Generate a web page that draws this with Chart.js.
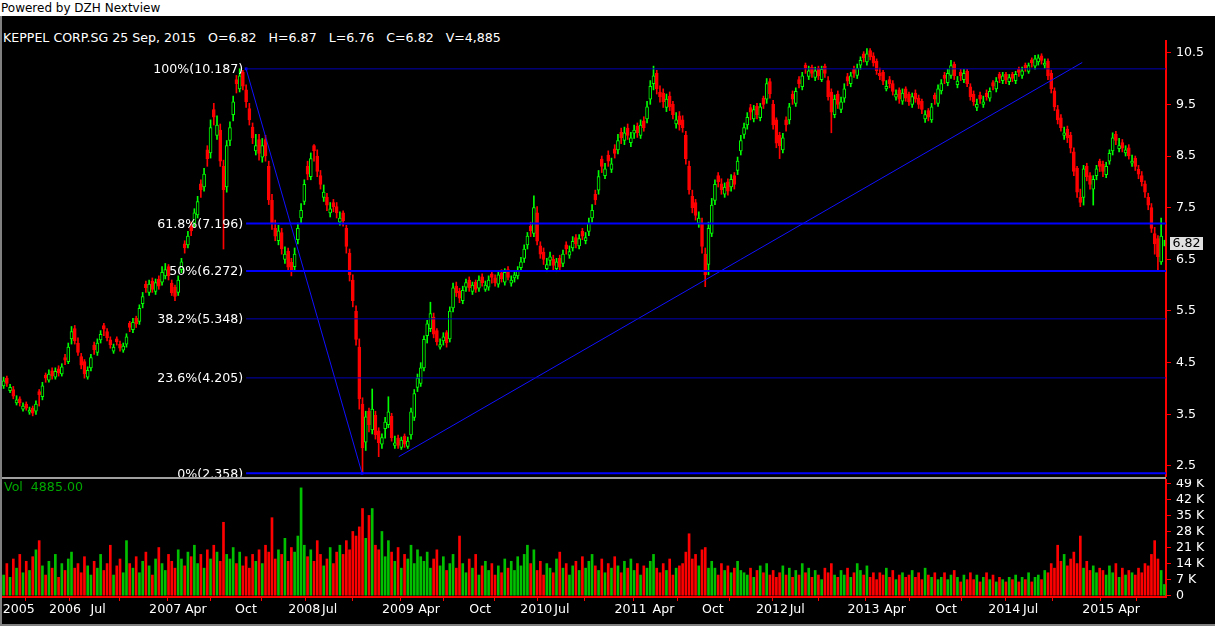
<!DOCTYPE html>
<html><head><meta charset="utf-8">
<script src="https://cdn.jsdelivr.net/npm/chart.js@4.4.1/dist/chart.umd.min.js"></script>
<style>
html,body{margin:0;padding:0;background:#000;width:1215px;height:626px;overflow:hidden;font-family:"DejaVu Sans",sans-serif;}
.abs{position:absolute;}
#topbar{left:0;top:0;width:1215px;height:16px;background:#fff;color:#000;font-size:12px;line-height:14px;}
#topbar span{position:absolute;left:1px;top:1px;white-space:pre;}
#title{left:3px;top:31px;color:#fff;font-size:12.6px;line-height:14px;white-space:pre;}
#vol{left:4px;top:480px;color:#00a800;font-size:12.6px;line-height:14px;white-space:pre;}
#lborder{left:0;top:16px;width:2px;height:610px;background:#808080;}
#bborder{left:0;top:624px;width:1215px;height:2px;background:#808080;}
#sep{left:0;top:477px;width:1166px;height:2px;background:#a0a0a0;}
#pc{left:0;top:40px;}
#vc{left:0;top:479px;}
</style></head><body>
<div class="abs" id="topbar"><span>Powered by DZH Nextview</span></div>
<div class="abs" id="title">KEPPEL CORP.SG 25 Sep, 2015   O=6.82   H=6.87   L=6.76   C=6.82   V=4,885</div>
<canvas class="abs" id="pc" width="1215" height="437"></canvas>
<canvas class="abs" id="vc" width="1215" height="147"></canvas>
<div class="abs" id="sep"></div>
<div class="abs" id="vol">Vol  4885.00</div>
<div class="abs" id="lborder"></div>
<div class="abs" id="bborder"></div>
<script>
// ---- data (weekly-ish candles) ----
const closeP = [
4.15,4.10,4.02,3.85,3.78,3.72,3.66,3.62,3.58,3.52,
3.70,3.88,4.05,4.20,4.28,4.25,4.33,4.30,4.42,4.55,
4.80,5.10,4.92,4.70,4.45,4.28,4.35,4.60,4.75,4.88,
5.05,5.15,4.98,4.85,4.80,4.90,4.78,4.82,5.00,5.18,
5.28,5.25,5.55,5.78,5.95,6.02,5.92,6.05,5.98,6.25,
6.30,6.18,5.85,5.78,6.10,6.45,6.72,6.95,7.05,7.40,
7.62,7.85,8.15,8.45,9.05,9.25,9.10,8.40,7.85,8.70,
9.05,9.55,9.90,10.05,9.85,9.55,9.20,8.85,8.70,8.55,
8.70,8.50,7.65,7.20,6.95,7.05,6.70,6.60,6.35,6.28,
6.60,7.10,7.45,7.95,8.15,8.45,8.60,8.20,7.95,7.80,
7.55,7.48,7.52,7.40,7.30,7.25,6.75,6.20,5.70,4.95,
3.80,2.85,3.45,3.30,3.60,3.10,2.95,3.05,3.35,3.55,
3.05,2.95,2.90,3.00,2.92,2.98,3.55,3.90,4.20,4.40,
4.95,5.25,5.45,5.05,4.90,4.85,5.00,4.88,5.50,5.95,
5.85,5.75,5.90,6.05,5.95,6.00,5.92,6.10,6.05,6.00,
6.10,6.15,6.05,6.20,6.12,6.25,6.15,6.10,6.20,6.28,
6.45,6.70,6.95,7.05,7.50,6.85,6.60,6.50,6.40,6.55,
6.38,6.45,6.35,6.60,6.70,6.65,6.85,6.80,6.90,6.95,
6.92,7.20,7.45,7.65,8.10,8.30,8.25,8.40,8.35,8.55,
8.80,8.85,8.95,8.90,8.85,9.00,8.95,9.10,9.05,9.45,
9.85,10.05,9.80,9.65,9.55,9.60,9.45,9.30,9.20,9.10,
9.05,8.45,7.85,7.50,7.35,7.30,6.75,6.20,7.10,7.55,
7.95,8.00,7.85,7.90,7.82,8.05,7.95,8.40,8.80,9.05,
9.25,9.35,9.40,9.30,9.45,9.50,9.90,9.70,9.10,8.75,
8.70,8.85,9.10,9.45,9.60,9.75,9.90,10.05,10.20,10.15,
10.10,10.15,10.05,10.18,10.10,9.65,9.35,9.60,9.50,9.55,
9.80,9.95,10.05,10.10,10.20,10.35,10.40,10.48,10.42,10.30,
10.15,10.05,9.95,9.85,9.90,9.75,9.70,9.60,9.72,9.62,
9.55,9.65,9.60,9.50,9.40,9.30,9.25,9.45,9.60,9.80,
9.90,10.00,10.10,10.25,10.05,9.95,10.05,10.10,9.90,9.65,
9.55,9.50,9.60,9.55,9.65,9.75,9.85,9.95,10.00,10.05,
9.98,10.02,10.00,10.08,10.12,10.15,10.20,10.25,10.30,10.38,
10.40,10.35,10.30,10.05,9.80,9.45,9.20,9.05,8.95,8.85,
8.65,8.20,7.80,7.60,8.25,8.10,7.95,8.05,8.25,8.30,
8.20,8.30,8.55,8.85,8.80,8.70,8.65,8.62,8.50,8.40,
8.30,8.15,8.00,7.80,7.55,7.10,6.80,6.55,6.95,6.82];
const openP = [
4.05,4.20,3.96,3.98,3.72,3.80,3.60,3.70,3.54,3.62,
3.56,3.94,3.84,4.26,4.16,4.34,4.22,4.38,4.28,4.60,
4.52,4.96,5.16,4.88,4.62,4.52,4.22,4.40,4.84,4.70,
4.94,5.22,5.10,4.94,4.72,4.96,4.86,4.74,4.86,5.26,
5.14,5.36,5.30,5.64,6.02,5.86,6.08,5.88,6.12,6.06,
6.18,6.36,6.04,5.96,5.86,6.30,6.80,6.78,7.14,7.20,
7.36,7.96,7.90,8.62,8.56,9.40,8.90,9.00,8.30,7.90,
8.80,9.30,9.98,9.80,10.12,9.78,9.42,9.06,8.60,8.82,
8.48,8.82,8.30,7.64,7.10,6.86,7.02,6.50,6.66,6.44,
6.36,6.88,7.30,7.62,8.30,8.10,8.70,8.50,8.12,7.70,
7.70,7.40,7.60,7.52,7.22,7.40,7.10,6.62,6.10,5.50,
4.80,3.70,2.96,3.56,3.20,3.48,3.18,2.92,3.22,3.30,
3.46,2.90,3.04,2.86,3.08,2.88,3.10,3.44,4.02,4.10,
4.40,5.02,5.16,5.38,5.12,4.80,4.92,5.08,4.96,5.56,
5.98,5.88,5.70,5.96,6.10,5.88,6.06,5.94,6.16,5.92,
5.96,6.22,6.14,6.02,6.24,6.06,6.30,6.04,6.14,6.18,
6.34,6.52,6.78,7.14,7.00,7.40,6.76,6.64,6.32,6.48,
6.50,6.32,6.52,6.42,6.78,6.58,6.72,6.92,6.76,7.04,
6.86,7.04,7.30,7.76,7.84,8.44,8.12,8.52,8.24,8.64,
8.62,8.96,8.80,9.04,8.76,8.94,9.08,8.90,9.18,9.22,
9.60,9.90,10.10,9.74,9.72,9.44,9.66,9.50,9.12,9.28,
9.20,8.90,8.30,7.72,7.60,7.20,7.20,6.60,6.40,7.00,
7.64,8.12,7.96,7.76,8.00,7.90,8.12,8.22,8.60,8.92,
9.10,9.44,9.22,9.46,9.24,9.62,9.60,9.94,9.50,9.20,
8.90,8.62,9.20,9.20,9.70,9.52,9.98,9.84,10.26,10.04,
10.22,10.02,10.20,9.98,10.24,9.96,9.74,9.30,9.70,9.40,
9.62,10.04,9.90,10.18,10.06,10.26,10.48,10.32,10.54,10.44,
10.34,10.10,10.12,9.80,9.98,9.90,9.64,9.78,9.56,9.80,
9.70,9.50,9.72,9.62,9.56,9.22,9.38,9.20,9.68,9.52,
9.76,10.06,9.92,10.06,10.28,9.88,10.12,9.98,10.14,9.84,
9.70,9.44,9.68,9.50,9.72,9.62,9.92,9.80,10.08,9.96,
10.08,9.94,10.08,9.96,10.18,10.06,10.26,10.14,10.36,10.24,
10.32,10.44,10.26,10.34,10.10,9.76,9.40,9.24,8.90,9.02,
8.90,8.58,8.26,7.70,7.70,8.30,8.12,7.86,8.12,8.40,
8.34,8.14,8.40,8.60,8.92,8.64,8.76,8.56,8.66,8.36,
8.46,8.24,8.12,7.96,7.70,7.50,7.00,6.90,6.45,6.82];
const highP = [
4.22,4.24,4.08,4.04,3.86,3.84,3.72,3.74,3.64,3.66,
3.76,3.98,4.12,4.30,4.36,4.40,4.40,4.44,4.48,4.66,
4.88,5.20,5.22,4.98,4.68,4.56,4.42,4.66,4.90,4.96,
5.12,5.26,5.16,5.00,4.86,5.00,4.92,4.88,5.06,5.30,
5.36,5.40,5.62,5.86,6.08,6.10,6.14,6.12,6.18,6.36,
6.42,6.40,6.10,6.00,6.18,6.52,6.86,7.04,7.22,7.48,
7.72,8.04,8.26,8.70,9.20,9.52,9.28,9.12,8.42,8.80,
9.16,9.66,10.06,10.19,10.16,9.88,9.52,9.14,8.92,8.92,
8.84,8.90,8.40,7.76,7.26,7.16,7.10,6.74,6.72,6.52,
6.72,7.20,7.58,8.04,8.40,8.56,8.72,8.62,8.22,7.94,
7.78,7.60,7.66,7.60,7.42,7.44,7.16,6.70,6.20,5.60,
4.96,3.82,3.56,3.62,3.99,3.56,3.24,3.12,3.44,3.84,
3.52,3.08,3.10,3.06,3.12,3.06,3.62,3.98,4.28,4.50,
5.02,5.32,5.67,5.46,5.16,4.96,5.08,5.12,5.58,6.04,
6.06,5.94,5.98,6.12,6.16,6.06,6.10,6.18,6.22,6.08,
6.18,6.26,6.20,6.28,6.30,6.32,6.36,6.18,6.28,6.36,
6.54,6.78,7.02,7.22,7.73,7.52,6.84,6.72,6.52,6.64,
6.58,6.52,6.58,6.68,6.84,6.76,6.94,6.98,6.98,7.10,
7.02,7.30,7.56,7.84,8.22,8.50,8.36,8.60,8.46,8.72,
8.92,9.04,9.06,9.12,8.96,9.10,9.14,9.20,9.26,9.56,
9.96,10.24,10.16,9.86,9.80,9.70,9.74,9.56,9.34,9.36,
9.28,8.98,8.40,7.84,7.66,7.42,7.30,6.72,7.22,7.68,
8.04,8.18,8.06,7.98,8.06,8.14,8.18,8.48,8.90,9.14,
9.34,9.50,9.48,9.52,9.52,9.66,10.00,10.00,9.58,9.24,
8.96,8.94,9.26,9.52,9.76,9.82,10.04,10.12,10.30,10.24,
10.26,10.22,10.24,10.24,10.28,10.04,9.80,9.68,9.76,9.64,
9.90,10.10,10.12,10.24,10.28,10.42,10.52,10.58,10.58,10.50,
10.38,10.20,10.16,9.96,10.04,9.96,9.78,9.82,9.80,9.84,
9.74,9.72,9.78,9.68,9.60,9.38,9.42,9.52,9.72,9.88,
9.98,10.12,10.18,10.35,10.32,10.04,10.18,10.18,10.18,9.90,
9.76,9.60,9.74,9.66,9.78,9.82,9.96,10.02,10.12,10.12,
10.12,10.08,10.12,10.14,10.22,10.22,10.30,10.30,10.40,10.45,
10.46,10.48,10.38,10.38,10.16,9.82,9.48,9.30,9.06,9.08,
8.96,8.66,8.30,7.86,8.32,8.36,8.18,8.12,8.32,8.44,
8.40,8.38,8.62,8.95,8.98,8.84,8.82,8.70,8.72,8.52,
8.50,8.32,8.20,8.02,7.78,7.58,7.12,6.96,7.30,6.87];
const lowP = [
4.00,4.04,3.92,3.80,3.68,3.66,3.56,3.58,3.50,3.47,
3.50,3.66,3.78,4.12,4.12,4.18,4.18,4.24,4.24,4.46,
4.48,4.86,4.86,4.64,4.38,4.20,4.18,4.34,4.66,4.64,
4.88,5.02,4.92,4.78,4.68,4.84,4.72,4.70,4.80,5.10,
5.08,5.18,5.24,5.56,5.86,5.80,5.86,5.82,5.92,6.00,
6.12,6.10,5.80,5.70,5.80,6.24,6.62,6.72,6.96,7.12,
7.30,7.70,7.82,8.30,8.46,9.10,8.82,8.30,6.70,7.80,
8.70,9.18,9.72,9.74,9.78,9.44,9.10,8.74,8.52,8.42,
8.38,8.40,7.56,7.08,6.86,6.78,6.60,6.42,6.26,6.18,
6.26,6.80,7.20,7.56,8.04,8.04,8.40,8.10,7.86,7.62,
7.44,7.32,7.42,7.30,7.16,7.14,6.62,6.08,5.58,4.84,
3.60,2.36,2.80,3.16,3.12,3.02,2.68,2.84,3.04,3.24,
2.98,2.84,2.84,2.82,2.86,2.84,3.02,3.38,3.94,4.04,
4.34,4.88,5.10,4.98,4.84,4.76,4.84,4.80,4.90,5.48,
5.78,5.66,5.64,5.88,5.88,5.82,5.86,5.88,5.98,5.88,
5.90,6.04,5.98,5.96,6.06,6.00,6.10,5.98,6.06,6.12,
6.26,6.44,6.70,6.94,6.94,6.78,6.52,6.40,6.26,6.38,
6.28,6.26,6.28,6.36,6.60,6.52,6.66,6.72,6.70,6.88,
6.80,6.96,7.22,7.56,7.76,8.18,8.06,8.30,8.18,8.46,
8.54,8.74,8.72,8.82,8.68,8.84,8.86,8.84,8.98,9.14,
9.50,9.78,9.70,9.54,9.44,9.36,9.38,9.22,9.04,9.00,
8.96,8.34,7.76,7.40,7.26,7.12,6.62,5.97,6.20,6.94,
7.56,7.90,7.76,7.70,7.74,7.82,7.86,8.14,8.52,8.84,
9.02,9.20,9.16,9.22,9.18,9.42,9.52,9.62,9.02,8.66,
8.45,8.56,8.98,9.12,9.50,9.46,9.82,9.78,10.10,9.98,
10.02,9.96,9.98,9.94,10.02,9.58,8.95,9.24,9.42,9.34,
9.54,9.86,9.84,10.02,10.00,10.18,10.32,10.26,10.36,10.24,
10.08,9.98,9.88,9.76,9.82,9.68,9.58,9.52,9.50,9.56,
9.48,9.44,9.54,9.42,9.32,9.15,9.18,9.15,9.50,9.46,
9.70,9.90,9.86,10.00,9.98,9.82,9.96,9.92,9.84,9.58,
9.48,9.38,9.52,9.44,9.58,9.56,9.78,9.74,9.92,9.90,
9.90,9.88,9.94,9.90,10.04,10.00,10.14,10.10,10.22,10.18,
10.26,10.28,10.20,9.98,9.72,9.38,9.12,8.98,8.82,8.76,
8.56,8.12,7.70,7.52,7.55,8.02,7.86,7.55,8.04,8.20,
8.10,8.08,8.34,8.52,8.72,8.58,8.58,8.50,8.44,8.30,
8.22,8.06,7.92,7.70,7.46,7.02,6.60,6.30,6.40,6.76];
// volume in thousands of shares
const volumeK = [
9,14,8,16,12,18,10,15,11,17,
20,24,13,9,15,12,18,8,14,11,
16,19,12,14,10,17,13,9,15,12,
18,11,14,22,9,13,16,10,24,14,
12,17,10,15,19,13,9,16,21,14,
11,18,15,12,20,16,13,19,17,22,
14,18,12,20,16,22,19,15,32,18,
16,21,14,19,13,17,12,18,15,20,
14,22,19,34,16,20,18,25,15,21,
19,26,47,22,17,20,15,24,18,13,
16,21,14,19,22,18,24,20,28,26,
30,38,25,35,38,22,20,28,17,24,
19,15,21,12,18,16,22,14,20,17,
15,19,12,16,20,13,17,11,14,18,
12,26,14,10,16,12,18,9,13,15,
11,14,9,13,10,16,12,15,11,17,
13,18,22,14,20,11,15,9,14,12,
10,16,19,12,14,9,13,15,11,17,
12,15,18,13,11,16,10,14,12,17,
13,10,15,12,16,11,14,9,13,12,
15,18,12,10,14,11,16,9,12,13,
14,19,27,16,18,13,20,21,12,15,
12,9,14,11,13,10,12,15,11,10,
9,12,8,11,13,10,14,9,11,8,
10,13,9,12,8,11,9,14,10,12,
8,11,9,7,12,10,14,9,8,11,
9,12,8,10,14,11,9,13,8,10,
7,10,9,12,8,11,7,9,10,8,
9,11,8,10,7,12,9,8,10,7,
8,10,7,9,11,8,6,9,7,10,
7,9,6,8,10,7,9,6,8,7,
6,8,7,9,6,8,7,10,6,8,
9,7,11,10,14,12,22,15,18,13,
16,19,14,26,12,15,11,13,10,12,
11,9,13,10,14,8,12,9,11,10,
9,12,10,14,13,18,24,16,11,4.885];
// axis ticks
const priceTicks = [2.5,3.5,4.5,5.5,6.5,7.5,8.5,9.5,10.5];
const volTicks = [0,7,14,21,28,35,42,49];
const xTickLabels = ['2005','2006','Jul','2007','Apr','Oct','2008','Jul','2009','Apr','Oct','2010','Jul','2011','Apr','Oct','2012','Jul','2013','Apr','Oct','2014','Jul','2015','Apr'];
const xTickPos = [-0.25,14.0,26.9,45.0,56.1,71.6,88.0,98.5,117.0,128.2,144.0,159.8,170.3,188.9,200.7,216.0,232.7,243.1,261.0,272.3,288.1,304.5,315.3,333.6,344.7];
// drawing tools (Fibonacci retracement + trendline)
const fibLevels = [10.187,7.196,6.272,5.348,4.205,2.358];
const fibNames = ['100%','61.8%','50%','38.2%','23.6%','0%'];
const fibStartX = 75.0, fibEndX = 110.85;
const trendX = [122.2, 333.6];
const trendY = [2.68, 10.31];
const lastClose = 6.82;

const N = closeP.length;
const XMIN = -0.5, XMAX = N - 0.5;
const UP = '#00ff00', DN = '#ff0000';
const isUp = closeP.map((c,i)=> c >= openP[i]);
Chart.defaults.font.family = '"DejaVu Sans", sans-serif';
Chart.defaults.font.size = 12;

const fibPlugin = {
  id:'fibLabels',
  afterDatasetsDraw(chart){
    const {ctx, scales:{x,y}} = chart;
    ctx.save();
    ctx.font = '12.6px "DejaVu Sans"';
    ctx.fillStyle = '#ffffff';
    ctx.textAlign = 'right';
    ctx.textBaseline = 'middle';
    fibLevels.forEach((lvl,k)=>{
      ctx.fillText(fibNames[k] + '(' + lvl.toFixed(3) + ')', x.getPixelForValue(fibStartX) - 3, y.getPixelForValue(lvl) + 1);
    });
    ctx.restore();
  },
  afterDraw(chart){
    const {ctx, scales:{y}} = chart;
    const py = Math.round(y.getPixelForValue(lastClose));
    ctx.save();
    ctx.fillStyle = '#e0e0e0';
    ctx.fillRect(1170, py - 6, 33, 13);
    ctx.fillStyle = '#000';
    ctx.font = '12.6px "DejaVu Sans"';
    ctx.textAlign = 'center';
    ctx.textBaseline = 'middle';
    ctx.fillText(lastClose.toFixed(2), 1186.5, py + 1);
    ctx.restore();
  }
};

const datasets = [];
datasets.push({
  type:'bar', order:5, grouped:false, barThickness:1,
  data: closeP.map((c,i)=>({x:i, y:[lowP[i], highP[i]]})),
  backgroundColor: isUp.map(u=>u?UP:DN), borderWidth:0
});
datasets.push({
  type:'bar', order:4, grouped:false, barThickness:3,
  data: closeP.map((c,i)=>({x:i, y:[openP[i], c]})),
  backgroundColor: isUp.map(u=>u?'#000000':DN),
  borderColor: isUp.map(u=>u?UP:DN), borderWidth:1, borderSkipped:false
});
fibLevels.forEach((lvl,k)=>{
  const strong = (k===1 || k===2 || k===5);
  datasets.push({type:'line', order:1, data:[{x:fibStartX,y:lvl},{x:XMAX,y:lvl}],
    borderColor: strong ? '#0000ff' : '#0000b4', borderWidth: strong ? 2 : 1, pointRadius:0, fill:false});
});
datasets.push({type:'line', order:1, data:[{x:fibStartX,y:fibLevels[0]},{x:fibEndX,y:fibLevels[5]}],
  borderColor:'#1010ff', borderWidth:1, pointRadius:[2,2], pointStyle:'rect', pointBackgroundColor:'#0000ff', pointBorderWidth:0, fill:false});
datasets.push({type:'line', order:1, data:[{x:trendX[0],y:trendY[0]},{x:trendX[1],y:trendY[1]}],
  borderColor:'#1010ff', borderWidth:1, pointRadius:0, fill:false});

const axisFont = {family:'"DejaVu Sans", sans-serif', size:12.6};

new Chart(document.getElementById('pc'), {
  type:'bar',
  data:{datasets},
  options:{
    responsive:false, animation:false, devicePixelRatio:1,
    layout:{autoPadding:false, padding:{left:2,right:0,top:0,bottom:0}},
    plugins:{legend:{display:false}, tooltip:{enabled:false}},
    scales:{
      x:{type:'linear', min:XMIN, max:XMAX, offset:false, display:false},
      y:{position:'right', min:2.2866, max:10.7458,
        afterBuildTicks(s){ s.ticks = priceTicks.map(v=>({value:v})); },
        afterFit(s){ s.width = 49; s.paddingTop = 0; s.paddingBottom = 0; },
        ticks:{color:'#ffffff', padding:5, autoSkip:false, font:axisFont, callback:v=>Number(v).toFixed(1)},
        grid:{drawOnChartArea:false, drawTicks:true, tickLength:5, tickColor:'#ff0000'},
        border:{display:true, color:'#ff0000', width:2}}
    }
  },
  plugins:[fibPlugin]
});

new Chart(document.getElementById('vc'), {
  type:'bar',
  data:{datasets:[{
    grouped:false, barThickness:2,
    data: volumeK.map((v,i)=>({x:i,y:v})),
    backgroundColor: isUp.map(u=>u?'#00c000':'#ff0000'), borderWidth:0
  }]},
  options:{
    responsive:false, animation:false, devicePixelRatio:1,
    layout:{autoPadding:false, padding:{left:2,right:0,top:0,bottom:0}},
    plugins:{legend:{display:false}, tooltip:{enabled:false}},
    scales:{
      x:{type:'linear', min:XMIN, max:XMAX, offset:false,
        afterBuildTicks(s){ s.ticks = xTickPos.map(v=>({value:v})); },
        afterFit(s){ s.height = 29; s.paddingLeft = 0; s.paddingRight = 0; },
        ticks:{color:'#ffffff', autoSkip:false, maxRotation:0, minRotation:0, align:'start', padding:1, font:axisFont,
          callback:(v,i)=>xTickLabels[i]},
        grid:{drawOnChartArea:false, drawTicks:true, tickLength:4, tickColor:'#ff0000'},
        border:{display:true, color:'#ff0000', width:2}},
      y:{position:'right', min:-0.567, max:50.87,
        afterBuildTicks(s){ s.ticks = volTicks.map(v=>({value:v})); },
        afterFit(s){ s.width = 49; s.paddingTop = 0; s.paddingBottom = 0; },
        ticks:{color:'#ffffff', padding:5, autoSkip:false, font:axisFont, callback:v=> v===0 ? '0' : v + ' K'},
        grid:{drawOnChartArea:false, drawTicks:true, tickLength:5, tickColor:'#ff0000'},
        border:{display:true, color:'#ff0000', width:2}}
    }
  }
});
</script>
</body></html>
